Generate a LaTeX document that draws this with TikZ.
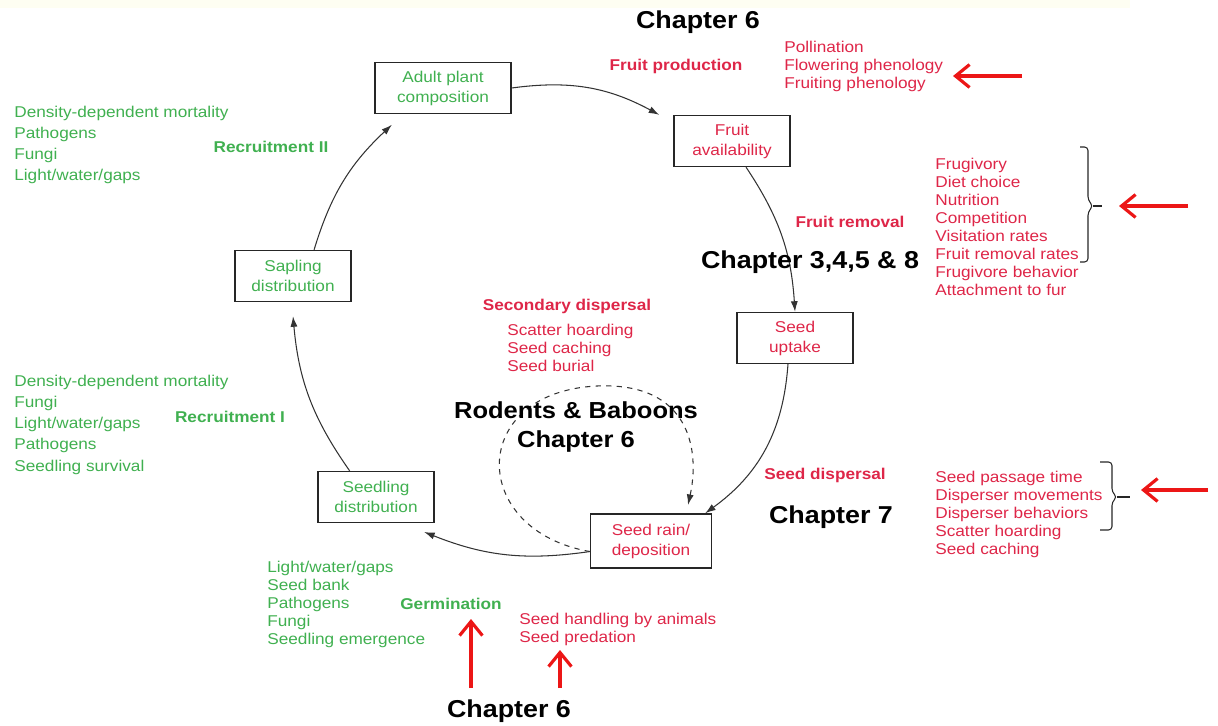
\documentclass[tikz,border=0pt]{standalone}
\usepackage{fontspec}
\setmainfont{Liberation Sans}[FakeStretch=1.1]
\usetikzlibrary{arrows.meta}
\definecolor{cyred}{RGB}{222,38,72}
\definecolor{cygreen}{RGB}{64,176,80}
\definecolor{hintred}{RGB}{236,22,22}

\begin{document}
\begin{tikzpicture}[x=0.02cm,y=0.02cm,
    stage/.style={draw=black!85, line width=0.8pt, align=center, minimum width=2.32cm,
      minimum height=1.02cm, inner sep=1pt, font=\fontsize{8.9}{11.4}\selectfont},
    lst/.style={anchor=north west, inner sep=0pt, align=left, font=\fontsize{8.9}{10.2}\selectfont},
    wide/.style={lst, font=\fontsize{8.9}{12}\selectfont},
    hd/.style={inner sep=0pt, font=\bfseries\fontsize{8.9}{10}\selectfont},
    chap/.style={inner sep=0pt, align=center, font=\bfseries\fontsize{13.9}{16.5}\selectfont},
    flow/.style={-{Latex[length=6pt,width=4pt]}, black!80, line width=0.6pt},
    hint/.style={-{Straight Barb[length=8pt,width=13pt]}, hintred, line width=1.8pt},
    bracket/.style={black!85, line width=0.6pt, rounded corners=2pt}]
    \useasboundingbox (0,0) rectangle (1218,-726);
    \fill[fill={rgb,255:red,254;green,254;blue,242}] (0,0) rectangle (1130,-8);

    % life cycle stages
    \node[stage, text=cygreen, minimum width=2.72cm] (adult) at (443,-88) {Adult plant\\composition};
    \node[stage, text=cyred] (fruit) at (732,-141) {Fruit\\availability};
    \node[stage, text=cyred] (uptake) at (795,-338) {Seed\\uptake};
    \node[stage, text=cyred, minimum width=2.42cm, minimum height=1.08cm] (rain) at (651,-541) {Seed rain/\\deposition};
    \node[stage, text=cygreen] (seedling) at (376,-497) {Seedling\\distribution};
    \node[stage, text=cygreen] (sapling) at (293,-276) {Sapling\\distribution};

    \draw[flow] (adult.east) to[bend left=18] ([xshift=-8pt]fruit.north west);
    \draw[flow] ([xshift=8pt]fruit.south) to[bend left=15] (uptake.north);
    \draw[flow] ([xshift=-4pt]uptake.south) to[bend left=25] ([xshift=-4pt]rain.north east);
    \draw[flow] ([yshift=-6pt]rain.west) to[bend left=15] ([xshift=-6pt,yshift=-5pt]seedling.south east);
    \draw[flow] ([xshift=-15pt]seedling.north) to[bend left=15] ([yshift=-8pt]sapling.south);
    \draw[flow] ([xshift=12pt]sapling.north) to[bend left=15] ([xshift=10pt,yshift=-6pt]adult.south west);

    % secondary dispersal loop
    \coordinate (loopend) at (688,-505);
    \draw[flow, dashed] ([yshift=-6pt]rain.west) .. controls (468,-530) and (468,-392) .. (597,-386)
        .. controls (690,-382) and (700,-450) .. (loopend);

    % labels
    \node[chap] (ch6top) at (698,-22) {Chapter 6};
    \node[hd, text=cyred] (fprod) at (676,-66) {Fruit production};
    \node[lst, text=cyred] (polli) at (784,-41) {Pollination\\Flowering phenology\\Fruiting phenology};

    \node[wide, text=cygreen] (recr2list) at (14,-106) {Density-dependent mortality\\Pathogens\\Fungi\\Light/water/gaps};
    \node[hd, text=cygreen] (recr2) at (271,-147) {Recruitment II};

    \node[hd, text=cyred] (fremov) at (850,-222) {Fruit removal};
    \node[chap] (ch3458) at (810,-262) {Chapter 3,4,5 \& 8};
    \node[lst, text=cyred] (frug) at (935,-158) {Frugivory\\Diet choice\\Nutrition\\Competition\\Visitation rates\\Fruit removal rates\\Frugivore behavior\\Attachment to fur};

    \node[hd, text=cyred] (secd) at (567,-306) {Secondary dispersal};
    \node[lst, text=cyred] (seclist) at (507,-324) {Scatter hoarding\\Seed caching\\Seed burial};
    \node[chap, font=\bfseries\fontsize{13.2}{16.5}\selectfont] (rodents) at (576,-427) {Rodents \& Baboons\\Chapter 6};

    \node[wide, text=cygreen] (recr1list) at (14,-375) {Density-dependent mortality\\Fungi\\Light/water/gaps\\Pathogens\\Seedling survival};
    \node[hd, text=cygreen] (recr1) at (230,-417) {Recruitment I};

    \node[hd, text=cyred] (sdisp) at (825,-475) {Seed dispersal};
    \node[chap] (ch7) at (831,-517) {Chapter 7};
    \node[lst, text=cyred] (passlist) at (935,-471) {Seed passage time\\Disperser movements\\Disperser behaviors\\Scatter hoarding\\Seed caching};

    \node[lst, text=cygreen] (germlist) at (267,-561) {Light/water/gaps\\Seed bank\\Pathogens\\Fungi\\Seedling emergence};
    \node[hd, text=cygreen] (germ) at (451,-604) {Germination};
    \node[lst, text=cyred] (handl) at (519,-613) {Seed handling by animals\\Seed predation};
    \node[chap] (ch6bot) at (509,-711) {Chapter 6};

    % brackets
    \draw[bracket] (1080,-147) -| (1088,-200) -- (1093,-206) -- (1088,-212) |- (1080,-262);
    \draw[bracket] (1093,-206) -- (1102,-206);
    \draw[bracket] (1100,-462) -| (1112,-492) -- (1117,-497) -- (1112,-502) |- (1100,-530);
    \draw[bracket] (1117,-497) -- (1130,-497);

    % pointers
    \coordinate (a1) at (1022,-76);  \coordinate (b1) at (953,-76);
    \coordinate (a2) at (1188,-206); \coordinate (b2) at (1119,-206);
    \coordinate (a3) at (1208,-490); \coordinate (b3) at (1141,-490);
    \coordinate (a4) at (471,-688);  \coordinate (b4) at (471,-619);
    \coordinate (a5) at (560,-688);  \coordinate (b5) at (560,-650);
    \foreach \s/\t in {a1/b1,a2/b2,a3/b3,a4/b4,a5/b5}
        \draw[hint] (\s) -- (\t);
\end{tikzpicture}
\end{document}
